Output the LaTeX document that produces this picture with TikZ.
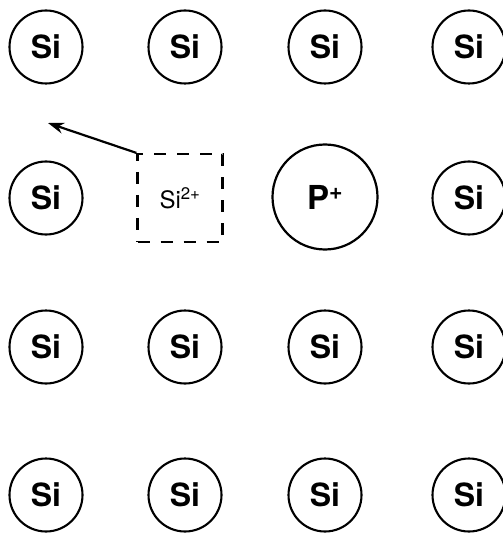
\documentclass[tikz,border=0pt]{standalone}
\usepackage{fontspec}
\setmainfont{TeX Gyre Heros}
\usetikzlibrary{arrows.meta}

\begin{document}
\begin{tikzpicture}[
    x=1pt, y=-1pt,
    atom/.style={circle, draw, line width=2.1pt, minimum size=73pt, inner sep=0pt, font=\fontsize{32}{36}\selectfont\bfseries},
    ion/.style={circle, draw, line width=2.2pt, minimum size=105pt, inner sep=0pt, font=\fontsize{33}{38}\selectfont\bfseries},
    vacancy/.style={rectangle, draw, dash pattern=on 12pt off 11pt, line width=2.2pt, minimum width=85pt, minimum height=88pt, font=\fontsize{24}{28}\selectfont},
    arrow/.style={-{Stealth[length=16pt,width=11pt]}, line width=2.2pt}
]
\useasboundingbox (0,0) rectangle (502,534);
% Nodes
\foreach \y/\r in {47/1,347/3,495/4}
  \foreach \x/\c in {46/1,185/2,325/3,469/4}
    \node[atom] (si-\r-\c) at (\x,\y) {Si};
\node[atom] (si-2-1) at (46,198) {Si};
\node[atom] (si-2-4) at (469,198) {Si};
\node[vacancy] (vac) at (180,198) {Si\textsuperscript{2+}};
\node[ion] (donor) at (325,197) {P\textsuperscript{+}};
\coordinate (hop) at (48,123);

% Arrows
\draw[arrow] (vac.north west) -- (hop);
\end{tikzpicture}
\end{document}
